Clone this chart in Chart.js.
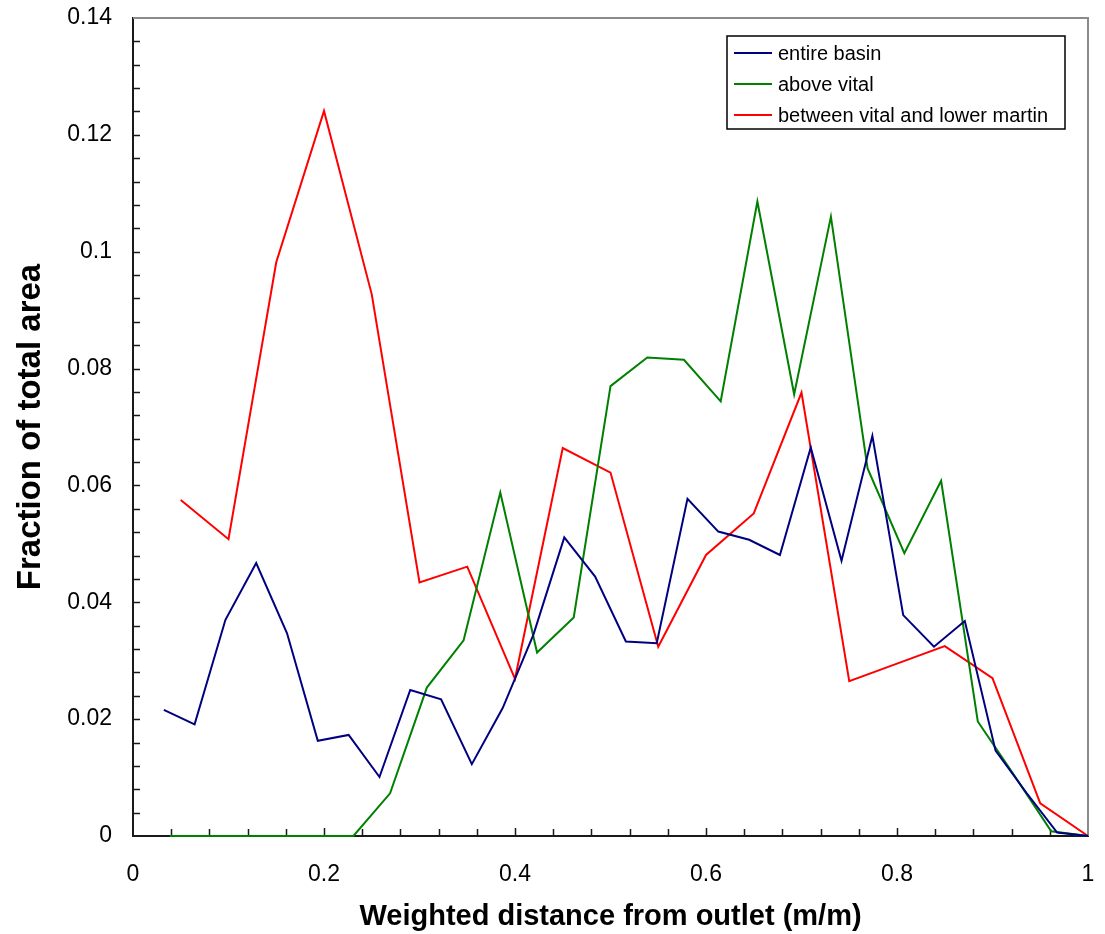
<!DOCTYPE html>
<html>
<head>
<meta charset="utf-8">
<script src="https://cdn.jsdelivr.net/npm/chart.js@4.4.1/dist/chart.umd.min.js"></script>
<style>
  html, body { margin: 0; padding: 0; background: #fff; }
  canvas { display: block; }
</style>
</head>
<body>
<canvas id="distChart" width="1105" height="934"></canvas>
<script>
const seriesLabels = ['entire basin', 'above vital', 'between vital and lower martin'];
const seriesColors = ['#000080', '#008000', '#ff0000'];

const basinX = [0.0323, 0.0645, 0.0968, 0.1290, 0.1613, 0.1935, 0.2258, 0.2581, 0.2903, 0.3226,
  0.3548, 0.3871, 0.4194, 0.4516, 0.4839, 0.5161, 0.5484, 0.5806, 0.6129, 0.6452,
  0.6774, 0.7097, 0.7419, 0.7742, 0.8065, 0.8387, 0.8710, 0.9032, 0.9355, 0.9677, 1.0];
const basinY = [0.0216, 0.0191, 0.0370, 0.0467, 0.0347, 0.0163, 0.0173, 0.0101, 0.0250, 0.0234,
  0.0123, 0.0219, 0.0345, 0.0511, 0.0444, 0.0333, 0.0330, 0.0577, 0.0521, 0.0507,
  0.0481, 0.0665, 0.0471, 0.0685, 0.0378, 0.0324, 0.0368, 0.0146, 0.0074, 0.0006, 0];

const aboveX = [0.0385, 0.0769, 0.1154, 0.1538, 0.1923, 0.2308, 0.2692, 0.3077, 0.3462, 0.3846,
  0.4231, 0.4615, 0.5000, 0.5385, 0.5769, 0.6154, 0.6538, 0.6923, 0.7308, 0.7692,
  0.8077, 0.8462, 0.8846, 0.9231, 0.9615, 1.0];
const aboveY = [0, 0, 0, 0, 0, 0, 0.0073, 0.0254, 0.0335, 0.0588,
  0.0314, 0.0374, 0.0770, 0.0819, 0.0815, 0.0744, 0.1086, 0.0756, 0.1060, 0.0629,
  0.0484, 0.0608, 0.0196, 0.0103, 0.0008, 0];

const betweenX = [0.05, 0.10, 0.15, 0.20, 0.25, 0.30, 0.35, 0.40, 0.45, 0.50,
  0.55, 0.60, 0.65, 0.70, 0.75, 0.80, 0.85, 0.90, 0.95, 1.00];
const betweenY = [0.0575, 0.0508, 0.0982, 0.1241, 0.0927, 0.0434, 0.0461, 0.0269, 0.0664, 0.0622,
  0.0324, 0.0481, 0.0552, 0.0759, 0.0265, 0.0295, 0.0325, 0.0270, 0.0056, 0];

const xTicks = [0, 0.2, 0.4, 0.6, 0.8, 1];
const yTicks = [0, 0.02, 0.04, 0.06, 0.08, 0.1, 0.12, 0.14];

const FONT = '"Liberation Sans", Arial, sans-serif';

function toPoints(xs, ys){
  return xs.map((x, i) => ({x: x, y: ys[i]}));
}

// gray top/right frame and the small inward tick marks
const framePlugin = {
  id: 'frame',
  beforeDatasetsDraw(chart){
    const {ctx, chartArea: a, scales: {x, y}} = chart;
    ctx.save();
    ctx.strokeStyle = '#8a8a8a';
    ctx.lineWidth = 2;
    ctx.beginPath();
    ctx.moveTo(a.left, a.top);
    ctx.lineTo(a.right, a.top);
    ctx.lineTo(a.right, a.bottom);
    ctx.stroke();

    ctx.strokeStyle = '#1a1a1a';
    ctx.lineWidth = 1.5;
    ctx.beginPath();
    for(let i = 1; i < 25; i++){
      const px = Math.round(x.getPixelForValue(i * 0.04)) + 0.5;
      const len = i % 5 === 0 ? 8 : 7;
      ctx.moveTo(px, a.bottom);
      ctx.lineTo(px, a.bottom - len);
    }
    for(let i = 1; i < 35; i++){
      const py = Math.round(y.getPixelForValue(i * 0.004)) + 0.5;
      ctx.moveTo(a.left, py);
      ctx.lineTo(a.left + 7, py);
    }
    ctx.stroke();
    ctx.restore();
  }
};

// boxed legend in the upper right of the plot
const legendBox = {
  id: 'legendBox',
  afterDraw(chart){
    const ctx = chart.ctx;
    const left = 727, top = 36, w = 338, h = 93;
    ctx.save();
    ctx.fillStyle = '#fff';
    ctx.fillRect(left, top, w, h);
    ctx.strokeStyle = '#000';
    ctx.lineWidth = 1.5;
    ctx.strokeRect(left, top, w, h);
    ctx.font = '20px ' + FONT;
    ctx.textBaseline = 'middle';
    ctx.textAlign = 'left';
    chart.data.datasets.forEach((ds, i) => {
      const yy = top + 17 + i * 31;
      ctx.strokeStyle = ds.borderColor;
      ctx.lineWidth = 2;
      ctx.beginPath();
      ctx.moveTo(734, yy);
      ctx.lineTo(772, yy);
      ctx.stroke();
      ctx.fillStyle = '#000';
      ctx.fillText(ds.label, 778, yy + 1);
    });
    ctx.restore();
  }
};

function noPad(s){
  s.paddingTop = 0;
  s.paddingBottom = 0;
  s.paddingLeft = 0;
  s.paddingRight = 0;
}

const chart = new Chart(document.getElementById('distChart'), {
  type: 'line',
  data: {
    datasets: [
      {label: seriesLabels[0], data: toPoints(basinX, basinY), borderColor: seriesColors[0]},
      {label: seriesLabels[1], data: toPoints(aboveX, aboveY), borderColor: seriesColors[1]},
      {label: seriesLabels[2], data: toPoints(betweenX, betweenY), borderColor: seriesColors[2]}
    ].map(ds => Object.assign(ds, {borderWidth: 2, pointRadius: 0, tension: 0, fill: false, clip: false}))
  },
  options: {
    responsive: false,
    animation: false,
    events: [],
    layout: {padding: {left: 0, right: 17, top: 18, bottom: 0}},
    plugins: {legend: {display: false}, tooltip: {enabled: false}},
    scales: {
      x: {
        type: 'linear', min: 0, max: 1,
        afterBuildTicks: s => { s.ticks = xTicks.map(v => ({value: v})); },
        afterFit: s => { s.height = 98; noPad(s); },
        grid: {display: true, drawOnChartArea: false, drawTicks: false},
        border: {display: true, color: '#1a1a1a', width: 2},
        ticks: {
          autoSkip: false, maxRotation: 0, padding: 25, color: '#000',
          font: {family: FONT, size: 23},
          callback: v => String(Number(v.toFixed(2)))
        },
        title: {
          display: true, text: 'Weighted distance from outlet (m/m)', color: '#000',
          font: {family: FONT, size: 29, weight: 'bold'}, padding: {top: 0, bottom: 0}
        }
      },
      y: {
        type: 'linear', min: 0, max: 0.14,
        afterBuildTicks: s => { s.ticks = yTicks.map(v => ({value: v})); },
        afterFit: s => { s.width = 133; noPad(s); },
        grid: {display: true, drawOnChartArea: false, drawTicks: false},
        border: {display: true, color: '#1a1a1a', width: 2},
        ticks: {
          autoSkip: false, padding: 21, color: '#000',
          font: {family: FONT, size: 23},
          callback: v => String(Number(v.toFixed(2)))
        },
        title: {
          display: true, text: 'Fraction of total area', color: '#000',
          font: {family: FONT, size: 33, weight: 'bold'}, padding: {top: 11, bottom: 0}
        }
      }
    }
  },
  plugins: [framePlugin, legendBox]
});
</script>
</body>
</html>
